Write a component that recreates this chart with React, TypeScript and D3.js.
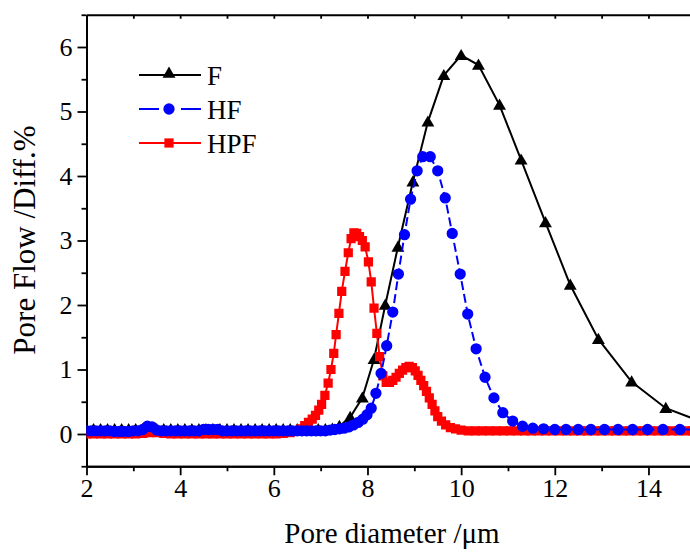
import React, { useRef, useEffect } from 'react';
import * as d3 from 'd3';

// series (pore diameter in µm, pore flow diff. in %)
const fX = [2.0, 2.15, 2.3, 2.45, 2.6, 2.75, 2.9, 3.05, 3.2, 3.35, 3.5, 3.65, 3.8, 3.95, 4.1, 4.25, 4.4, 4.55, 4.7, 4.85,
  5.0, 5.15, 5.3, 5.45, 5.6, 5.75, 5.9, 6.05, 6.2, 6.35, 6.5, 6.65, 6.8, 6.95, 7.1, 7.25, 7.4,
  7.63, 7.89, 8.14, 8.38, 8.65, 8.97, 9.29, 9.63, 10.0, 10.37, 10.82, 11.28, 11.8, 12.33, 12.93, 13.64, 14.37, 15.1];
const fY = [0.07, 0.07, 0.07, 0.07, 0.07, 0.07, 0.07, 0.07, 0.07, 0.07, 0.07, 0.07, 0.07, 0.07, 0.07, 0.07, 0.07, 0.07, 0.07, 0.07,
  0.07, 0.07, 0.07, 0.07, 0.07, 0.07, 0.07, 0.07, 0.07, 0.07, 0.07, 0.07, 0.07, 0.07, 0.07, 0.08, 0.12,
  0.26, 0.56, 1.16, 2.0, 2.9, 3.91, 4.84, 5.56, 5.87, 5.72, 5.1, 4.25, 3.28, 2.31, 1.47, 0.81, 0.4, 0.2];

const hfX = [2.0, 2.1, 2.2, 2.3, 2.4, 2.5, 2.6, 2.7, 2.8, 2.9, 3.0, 3.1, 3.2, 3.3, 3.4, 3.5, 3.6, 3.7, 3.8, 3.9,
  4.0, 4.1, 4.2, 4.3, 4.4, 4.5, 4.6, 4.7, 4.8, 4.9, 5.0, 5.1, 5.2, 5.3, 5.4, 5.5, 5.6, 5.7, 5.8, 5.9,
  6.0, 6.1, 6.2, 6.3, 6.4, 6.5, 6.6, 6.7, 6.8, 6.9, 7.0, 7.1, 7.2, 7.3, 7.4,
  7.5, 7.6, 7.7, 7.8, 7.9, 7.99, 8.08, 8.18, 8.29, 8.41, 8.54, 8.66, 8.79, 8.92, 9.06, 9.18, 9.34, 9.5, 9.66, 9.81,
  9.98, 10.14, 10.32, 10.51, 10.7, 10.89, 11.1, 11.31, 11.53, 11.76, 12.0, 12.24, 12.5, 12.77, 13.06, 13.35, 13.66,
  13.98, 14.31, 14.67, 15.04];
const hfY = [0.05, 0.05, 0.05, 0.05, 0.05, 0.05, 0.04, 0.04, 0.04, 0.04, 0.05, 0.05, 0.07, 0.12, 0.11, 0.06, 0.05, 0.05, 0.05, 0.05,
  0.05, 0.05, 0.05, 0.05, 0.05, 0.07, 0.07, 0.07, 0.07, 0.05, 0.05, 0.05, 0.05, 0.05, 0.05, 0.05, 0.05, 0.05, 0.05, 0.05,
  0.05, 0.05, 0.05, 0.05, 0.05, 0.05, 0.05, 0.05, 0.05, 0.05, 0.05, 0.05, 0.06, 0.07, 0.08,
  0.09, 0.11, 0.14, 0.18, 0.23, 0.3, 0.4, 0.63, 0.94, 1.37, 1.89, 2.48, 3.09, 3.64, 4.08, 4.3, 4.3, 4.08, 3.66, 3.11,
  2.48, 1.86, 1.32, 0.88, 0.56, 0.33, 0.2, 0.12, 0.09, 0.08, 0.07, 0.07, 0.07, 0.07, 0.07, 0.07, 0.07,
  0.07, 0.07, 0.07, 0.07];

const hpfX = [2.0, 2.15, 2.3, 2.45, 2.6, 2.75, 2.9, 3.05, 3.2, 3.35, 3.5, 3.65, 3.8, 3.95, 4.1, 4.25, 4.4, 4.55, 4.7, 4.85,
  5.0, 5.15, 5.3, 5.45, 5.6, 5.75, 5.9, 6.05, 6.2, 6.35, 6.5,
  6.58, 6.66, 6.74, 6.82, 6.89, 6.96, 7.02, 7.09, 7.16, 7.22, 7.28, 7.33, 7.39, 7.45, 7.52, 7.59, 7.65, 7.71, 7.77, 7.83,
  7.89, 7.95, 8.02, 8.08, 8.14, 8.2, 8.26, 8.33, 8.4, 8.47, 8.54, 8.61, 8.68, 8.75, 8.82, 8.89, 8.96, 9.02, 9.08, 9.14,
  9.2, 9.26, 9.32, 9.38, 9.44, 9.5, 9.58, 9.67, 9.77, 9.88, 10.0,
  10.15, 10.3, 10.45, 10.6, 10.75, 10.9, 11.05, 11.2, 11.35, 11.5, 11.65, 11.8, 11.95, 12.1, 12.25, 12.4, 12.55, 12.7,
  12.85, 13.0, 13.15, 13.3, 13.45, 13.6, 13.75, 13.9, 14.05, 14.2, 14.35, 14.5, 14.65, 14.8, 14.95, 15.1];
const hpfY = [0.0, 0.0, 0.0, 0.0, 0.0, 0.0, 0.0, 0.0, 0.01, 0.02, 0.02, 0.01, 0.0, 0.0, 0.0, 0.0, 0.0, 0.0, 0.0, 0.0,
  0.0, 0.0, 0.0, 0.0, 0.0, 0.0, 0.0, 0.0, 0.01, 0.02, 0.04,
  0.08, 0.13, 0.18, 0.23, 0.29, 0.37, 0.46, 0.6, 0.79, 1.0, 1.25, 1.54, 1.87, 2.21, 2.52, 2.81, 3.03, 3.12, 3.11, 3.06,
  3.0, 2.9, 2.67, 2.36, 1.95, 1.56, 1.2, 0.9, 0.8, 0.8, 0.83, 0.88, 0.94, 0.99, 1.03, 1.05, 1.03, 0.98, 0.91, 0.83,
  0.75, 0.66, 0.56, 0.46, 0.36, 0.27, 0.2, 0.14, 0.1, 0.08, 0.06,
  0.05, 0.05, 0.05, 0.05, 0.05, 0.05, 0.05, 0.05, 0.05, 0.05, 0.05, 0.05, 0.05, 0.05, 0.05, 0.05, 0.05, 0.05,
  0.05, 0.05, 0.05, 0.05, 0.05, 0.05, 0.05, 0.05, 0.05, 0.05, 0.05, 0.05, 0.05, 0.05, 0.05, 0.05];

const seriesNames = ['F', 'HF', 'HPF'];
const seriesColors = ['#000000', '#0000ff', '#ff0000'];
const xMajor = [2, 4, 6, 8, 10, 12, 14];
const xMinor = [3, 5, 7, 9, 11, 13, 15];
const xTop = [3, 4, 5, 6, 7, 8, 9, 10, 11, 12, 13, 14, 15];
const yMajor = [0, 1, 2, 3, 4, 5, 6];
const yMinor = [-0.5, 0.5, 1.5, 2.5, 3.5, 4.5, 5.5, 6.5];

const W = 690, H = 552;
const FONT = "'Liberation Serif', 'Times New Roman', Times, serif";

const App = () => {
  const svgRef = useRef<SVGSVGElement>(null);

  useEffect(() => {
    const svg = d3.select(svgRef.current);
    svg.selectAll('*').remove();

    const x = d3.scaleLinear().domain([2, 15]).range([86.5, 695.3]);
    const y = d3.scaleLinear().domain([-0.5, 6.5]).range([466.25, 14.75]);
    const x0 = 86.5, yB = y(-0.5), yT = y(6.5);

    svg.append('rect').attr('width', W).attr('height', H).attr('fill', '#fff');

    svg.append('defs').append('clipPath').attr('id', 'plotclip')
      .append('rect').attr('x', x0).attr('y', yT).attr('width', W - x0).attr('height', yB - yT);

    const styleAxis = (g: any) => {
      g.attr('font-family', null).attr('font-size', null);
      g.select('.domain').attr('stroke-width', 2);
      g.selectAll('.tick line').attr('stroke-width', 1.8);
      g.selectAll('text').style('font-family', FONT).style('font-size', '26px').attr('fill', '#000');
    };

    // bottom axis
    svg.append('g').attr('transform', `translate(0,${yB})`)
      .call(d3.axisBottom(x).tickValues(xMajor).tickSize(9).tickSizeOuter(0).tickPadding(3).tickFormat(d3.format('d')))
      .call(styleAxis);
    svg.append('g').attr('transform', `translate(0,${yB})`)
      .call(d3.axisBottom(x).tickValues(xMinor).tickSize(5).tickSizeOuter(0).tickFormat(() => ''))
      .call(styleAxis);
    // top axis (ticks pointing in)
    svg.append('g').attr('transform', `translate(0,${yT})`)
      .call(d3.axisBottom(x).tickValues(xTop).tickSize(4).tickSizeOuter(0).tickFormat(() => ''))
      .call(styleAxis);
    // left axis
    svg.append('g').attr('transform', `translate(${x0},0)`)
      .call(d3.axisLeft(y).tickValues(yMajor).tickSize(9).tickSizeOuter(0).tickPadding(5).tickFormat(d3.format('d')))
      .call(styleAxis);
    svg.append('g').attr('transform', `translate(${x0},0)`)
      .call(d3.axisLeft(y).tickValues(yMinor).tickSize(5).tickSizeOuter(0).tickFormat(() => ''))
      .call(styleAxis);

    // axis titles
    svg.append('text').attr('x', 392).attr('y', 543).attr('text-anchor', 'middle')
      .style('font-family', FONT).style('font-size', '29px').text('Pore diameter /\u03bcm');
    svg.append('text').attr('transform', 'translate(35,240) rotate(-90)').attr('text-anchor', 'middle')
      .style('font-family', FONT).style('font-size', '31px').text('Pore Flow /Diff.%');

    const plot = svg.append('g').attr('clip-path', 'url(#plotclip)');
    const line = d3.line<[number, number]>().x((d) => x(d[0])).y((d) => y(d[1]));

    const fData = fX.map((v, i) => [v, fY[i]] as [number, number]);
    const hfData = hfX.map((v, i) => [v, hfY[i]] as [number, number]);
    const hpfData = hpfX.map((v, i) => [v, hpfY[i]] as [number, number]);

    const tri = d3.symbol().type(d3.symbolTriangle).size(72);
    const circ = d3.symbol().type(d3.symbolCircle).size(100);
    const sq = d3.symbol().type(d3.symbolSquare).size(85);

    // F
    plot.append('path').attr('d', line(fData)).attr('fill', 'none').attr('stroke', seriesColors[0]).attr('stroke-width', 2);
    plot.selectAll('.fm').data(fData).join('path').attr('class', 'fm')
      .attr('transform', (d) => `translate(${x(d[0])},${y(d[1]) + 1})`).attr('d', tri()).attr('fill', seriesColors[0]);

    // HPF
    plot.append('path').attr('d', line(hpfData)).attr('fill', 'none').attr('stroke', seriesColors[2]).attr('stroke-width', 2);
    plot.selectAll('.hpfm').data(hpfData).join('path').attr('class', 'hpfm')
      .attr('transform', (d) => `translate(${x(d[0])},${y(d[1])})`).attr('d', sq()).attr('fill', seriesColors[2]);

    // HF
    plot.append('path').attr('d', line(hfData)).attr('fill', 'none').attr('stroke', seriesColors[1]).attr('stroke-width', 2)
      .attr('stroke-dasharray', '9,4');
    plot.selectAll('.hfm').data(hfData).join('path').attr('class', 'hfm')
      .attr('transform', (d) => `translate(${x(d[0])},${y(d[1])})`).attr('d', circ()).attr('fill', seriesColors[1]);

    // legend
    const symbols = [tri, circ, sq];
    seriesNames.forEach((name, i) => {
      const ly = 75 + i * 34;
      const g = svg.append('g');
      if (i === 1) {
        g.append('line').attr('x1', 139).attr('x2', 159).attr('y1', ly).attr('y2', ly)
          .attr('stroke', seriesColors[i]).attr('stroke-width', 2);
        g.append('line').attr('x1', 181).attr('x2', 201).attr('y1', ly).attr('y2', ly)
          .attr('stroke', seriesColors[i]).attr('stroke-width', 2);
      } else {
        g.append('line').attr('x1', 139).attr('x2', 201).attr('y1', ly).attr('y2', ly)
          .attr('stroke', seriesColors[i]).attr('stroke-width', 2);
      }
      g.append('path').attr('transform', `translate(169,${ly + (i === 0 ? -1 : 0)})`)
        .attr('d', symbols[i]()).attr('fill', seriesColors[i]);
      g.append('text').attr('x', 207).attr('y', ly + 10).style('font-family', FONT).style('font-size', '27px')
        .attr('fill', '#000').text(name);
    });
  }, []);

  return (
    <svg ref={svgRef} width={W} height={H} style={{ position: 'absolute', left: 0, top: 0 }} />
  );
};

export default App;
